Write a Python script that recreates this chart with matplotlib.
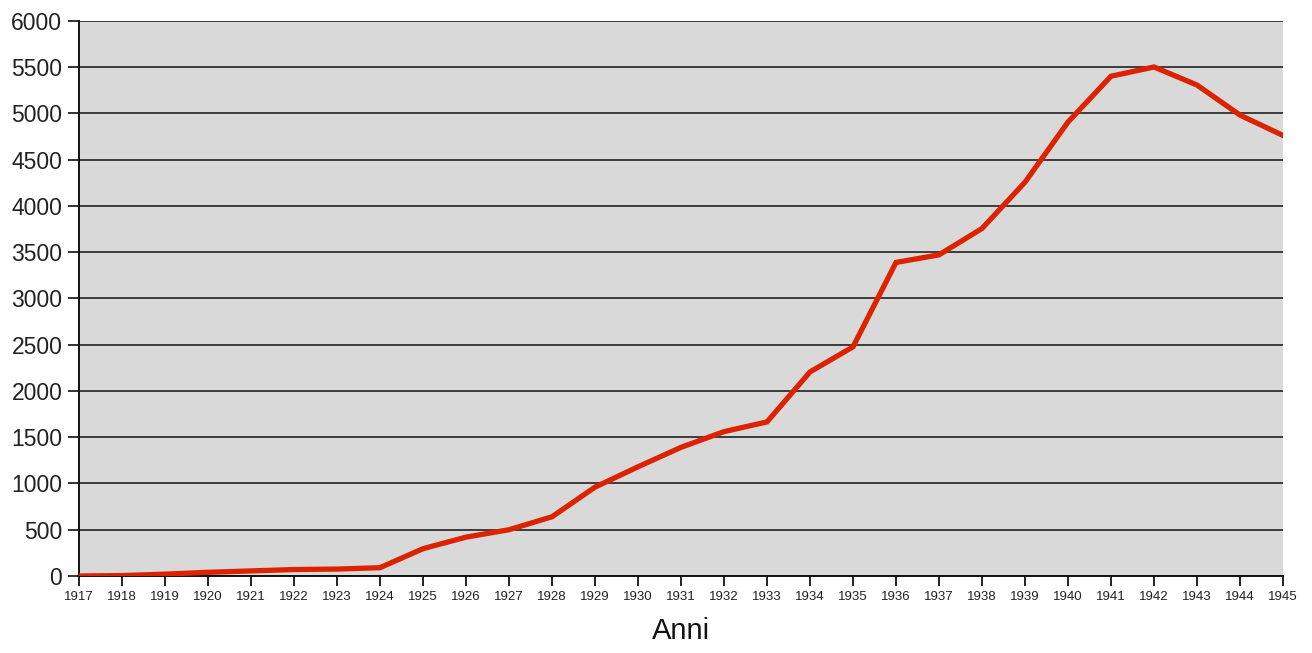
import matplotlib
matplotlib.use("Agg")
import matplotlib.pyplot as plt

# data
anni = list(range(1917, 1946))
valori = [0, 5, 20, 40, 55, 70, 75, 90, 295, 420, 500, 640,
          960, 1180, 1390, 1560, 1665, 2205, 2476, 3388, 3470, 3755,
          4255, 4905, 5400, 5500, 5305, 4980, 4760]
y_ticks = list(range(0, 6001, 500))

plt.rcParams['font.family'] = ['Liberation Sans', 'DejaVu Sans']

fig = plt.figure(figsize=(13.12, 6.53), dpi=100)
ax = fig.add_axes([0.0602, 0.1179, 0.9177, 0.8504])
ax.set_facecolor('#d9d9d9')

ax.plot(anni, valori, color='#dd2200', linewidth=3.8, solid_joinstyle='miter', zorder=3)

ax.set_xlim(1917, 1945)
ax.set_ylim(0, 6000)
ax.set_xticks(anni)
ax.set_xticklabels([str(a) for a in anni], fontsize=9.5, color='#222222')
ax.set_yticks(y_ticks)
ax.set_yticklabels([str(v) for v in y_ticks], fontsize=16.5, color='#222222')

ax.grid(axis='y', color='#222222', linewidth=1.2, zorder=1)
ax.set_axisbelow(True)

for s in ['top', 'right']:
    ax.spines[s].set_visible(False)
for s in ['left', 'bottom']:
    ax.spines[s].set_color('#111111')
    ax.spines[s].set_linewidth(1.4)

ax.tick_params(axis='x', length=7, width=1.3, color='#111111', pad=4)
ax.tick_params(axis='y', length=8, width=1.3, color='#222222', pad=4)

ax.set_xlabel("Anni", fontsize=21, color='#111111', labelpad=10)

fig.savefig("out.png", dpi=100)
